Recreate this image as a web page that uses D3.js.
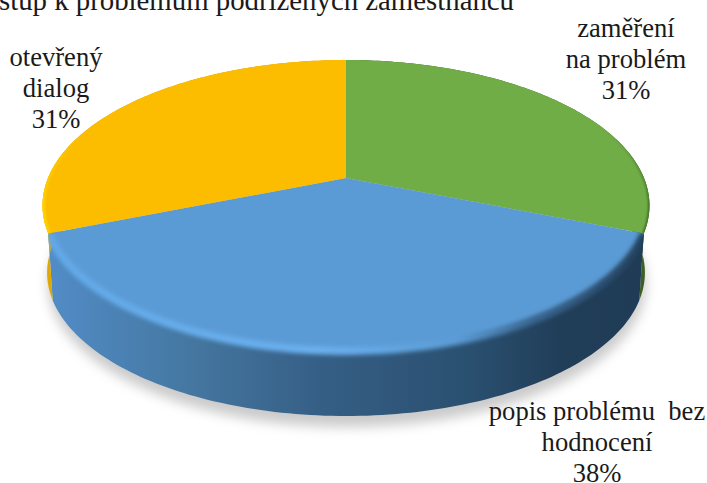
<!DOCTYPE html>
<html><head><meta charset="utf-8">
<script src="https://cdn.jsdelivr.net/npm/d3@7"></script>
<style>html,body{margin:0;padding:0;background:#fff;overflow:hidden}svg{display:block}
text{font-family:"Liberation Serif",serif;fill:#1a1a1a}</style></head>
<body><svg id="c" width="707" height="483"></svg>
<script>
const categories = ["zaměření na problém","popis problémů bez hodnocení","otevřený dialog"];
const values = [31,38,31];
const colors = ["#70ad47","#5b9bd5","#fcbc00"];
const titleText = "stup k problémům podřízených zaměstnanců";
const labelLines = [["zaměření","na problém","31%"],["popis problému  bez","hodnocení","38%"],["otevřený","dialog","31%"]];
const labelPos = [[626,37],[597,420],[56,66]];

const svg = d3.select("#c");
const defs = svg.append("defs");
const k = 0.189, A = 140.3, B = 298, cx = 346, cy = 178, depth = 67.6;
const proj = (a, lift) => {
  const u = Math.sin(a), v = -Math.cos(a), w = 1 - k * v;
  const s = lift ? 0.985 : 1;
  return [cx + s * B * u / w, cy + A * v / w * (lift ? 0.985 : 1) + (lift ? depth : 0)];
};
const arcPts = (a0, a1, lift) => d3.range(0, 121).map(i => proj(a0 + (a1 - a0) * i / 120, lift));
const line = d3.line();
const pie = d3.pie().sort(null)(values);

const blur = (id, s) => defs.append("filter").attr("id", id)
  .attr("x", "-20%").attr("y", "-20%").attr("width", "140%").attr("height", "140%")
  .append("feGaussianBlur").attr("stdDeviation", s);
blur("b6", 6); blur("b2", 2.2); blur("b1", 1.2);

const grad = (id, stops) => {
  const g = defs.append("linearGradient").attr("id", id).attr("gradientUnits", "userSpaceOnUse")
    .attr("x1", 45).attr("x2", 650).attr("y1", 0).attr("y2", 0);
  stops.forEach(s => g.append("stop").attr("offset", s[0]).attr("stop-color", s[1]));
};
grad("rim", [[0,"#528dc8"],[0.25,"#44769f"],[0.45,"#365f86"],[0.7,"#2a5070"],[0.85,"#213e59"],[1,"#1f3b55"]]);
grad("edge", [[0,"#62a8e8"],[0.45,"#6ab0ee"],[0.68,"#5b9bd5"],[0.8,"#3a6791"],[1,"#223f5b"]]);
const fade = (id, color) => {
  const g = defs.append("linearGradient").attr("id", id).attr("gradientUnits", "userSpaceOnUse")
    .attr("x1", 0).attr("x2", 0).attr("y1", 130).attr("y2", 205);
  g.append("stop").attr("offset", 0).attr("stop-color", color).attr("stop-opacity", 0);
  g.append("stop").attr("offset", 1).attr("stop-color", color).attr("stop-opacity", 1);
};
fade("fadeY", "#ffd400"); fade("fadeG", "#3f6a22");

// soft shadow
svg.append("path").attr("d", line(arcPts(0, 2 * Math.PI, true)) + "Z")
  .attr("transform", "translate(1,11)").attr("fill", "#a8a8a8").attr("opacity", 0.6).attr("filter", "url(#b6)");

// side walls
const rimFill = ["#3d5f24", "url(#rim)", "#e0a800"];
const wallPts = d => arcPts(d.startAngle, d.endAngle, false).concat(arcPts(d.startAngle, d.endAngle, true).reverse());
pie.forEach((d, i) => {
  svg.append("path").attr("d", line(wallPts(d)) + "Z").attr("fill", rimFill[i]);
});
// top faces
const facePts = d => [[cx, cy]].concat(arcPts(d.startAngle, d.endAngle, false));
pie.forEach((d, i) => {
  svg.append("path").attr("d", line(facePts(d)) + "Z").attr("fill", colors[i]);
});
// bevel along the lower part of each slice, kept inside its own slice
const rad = Math.PI / 180;
const bevel = [
  [pie[0], pie[0].endAngle - 50 * rad, pie[0].endAngle, "url(#fadeG)", 3, "b1"],
  [pie[1], pie[1].startAngle, pie[1].endAngle, "url(#edge)", 8, "b2"],
  [pie[2], pie[2].startAngle, pie[2].startAngle + 50 * rad, "url(#fadeY)", 5, "b1"]
];
bevel.forEach((b, i) => {
  const c = defs.append("clipPath").attr("id", "slice" + i);
  c.append("path").attr("d", line(facePts(b[0])) + "Z");
  c.append("path").attr("d", line(wallPts(b[0])) + "Z");
  svg.append("g").attr("clip-path", "url(#slice" + i + ")")
    .append("path").attr("d", line(arcPts(b[1], b[2], false)))
    .attr("fill", "none").attr("stroke", b[3]).attr("stroke-width", b[4]).attr("filter", "url(#" + b[5] + ")");
});

// labels
labelLines.forEach((ls, i) => {
  const t = svg.append("text").attr("text-anchor", "middle").attr("font-size", 26.6);
  ls.forEach((s, j) => t.append("tspan").attr("x", labelPos[i][0]).attr("y", labelPos[i][1] + j * 31).style("white-space","pre").text(s));
});
svg.append("text").attr("x", -1).attr("y", 10).attr("font-size", 28.8).text(titleText);
</script></body></html>
